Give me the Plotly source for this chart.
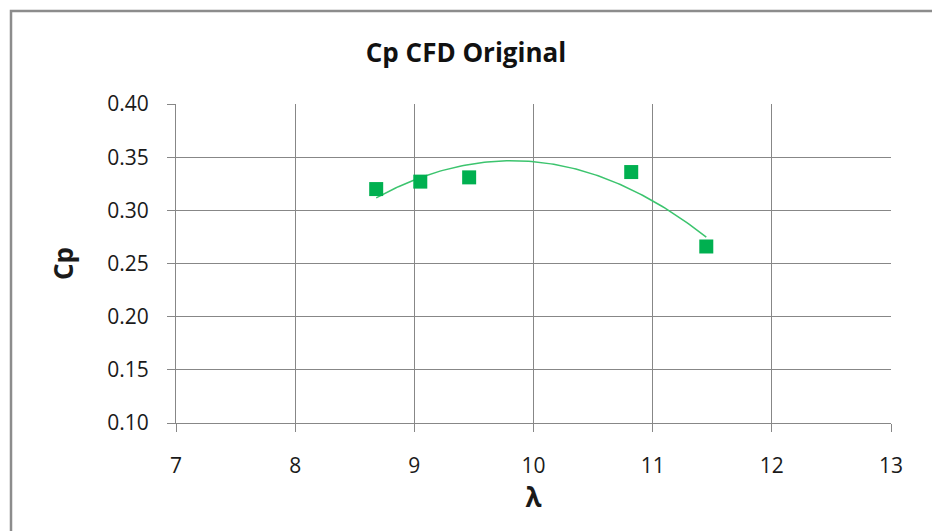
import numpy as np
import plotly.graph_objects as go

# Tip speed ratio and power coefficient from CFD runs
tsr = [8.68, 9.05, 9.46, 10.82, 11.45]
cp = [0.320, 0.327, 0.331, 0.336, 0.266]

x_ticks = [7, 8, 9, 10, 11, 12, 13]
y_ticks = [0.10, 0.15, 0.20, 0.25, 0.30, 0.35, 0.40]

# Second-order polynomial trendline over the sampled range
coef = np.polyfit(tsr, cp, 2)
xs = np.linspace(min(tsr), max(tsr), 120)
ys = np.polyval(coef, xs)

grid = "#878787"
font = "Open Sans, Liberation Sans, sans-serif"

fig = go.Figure()
fig.add_trace(go.Scatter(
    x=xs, y=ys, mode="lines",
    line=dict(color="#3cc46e", width=1.5),
    hoverinfo="skip", showlegend=False,
))
fig.add_trace(go.Scatter(
    x=tsr, y=cp, mode="markers",
    marker=dict(symbol="square", size=14, color="#00b050", line=dict(width=0)),
    showlegend=False,
))

fig.update_layout(
    width=932, height=531,
    margin=dict(l=176, r=41, t=104, b=108),
    paper_bgcolor="white", plot_bgcolor="white",
    font=dict(family=font, size=20, color="#1a1a1a"),
    title=dict(text="<b>Cp CFD Original</b>", x=0.5, xref="container",
               xanchor="center", y=1 - 53 / 531, yanchor="middle",
               font=dict(size=26, color="#111111")),
    xaxis=dict(
        range=[7, 13], tickvals=x_ticks, ticktext=[str(v) for v in x_ticks],
        tickfont=dict(size=21),
        showgrid=True, gridcolor=grid, gridwidth=1,
        showline=True, linecolor=grid, linewidth=1,
        ticks="outside", ticklen=8, tickcolor=grid,
        zeroline=False, ticklabelstandoff=16,
        title=dict(text="<b>λ</b>", font=dict(size=26), standoff=0),
    ),
    yaxis=dict(
        range=[0.10, 0.40], tickvals=y_ticks, ticktext=[f"{v:.2f}" for v in y_ticks],
        tickfont=dict(size=21),
        showgrid=True, gridcolor=grid, gridwidth=1,
        showline=True, linecolor=grid, linewidth=1,
        ticks="outside", ticklen=8, tickcolor=grid,
        zeroline=False, ticklabelstandoff=14,
        title=dict(text="<b>Cp</b>", font=dict(size=26), standoff=26),
    ),
    shapes=[dict(
        type="rect", xref="paper", yref="paper",
        x0=(11 - 176) / 715, x1=1.5, y0=-1.0, y1=1 + (104 - 11) / 319,
        line=dict(color="#8c8c8c", width=2.5), fillcolor="rgba(0,0,0,0)",
        layer="below",
    )],
)

fig.write_html("out.html")
